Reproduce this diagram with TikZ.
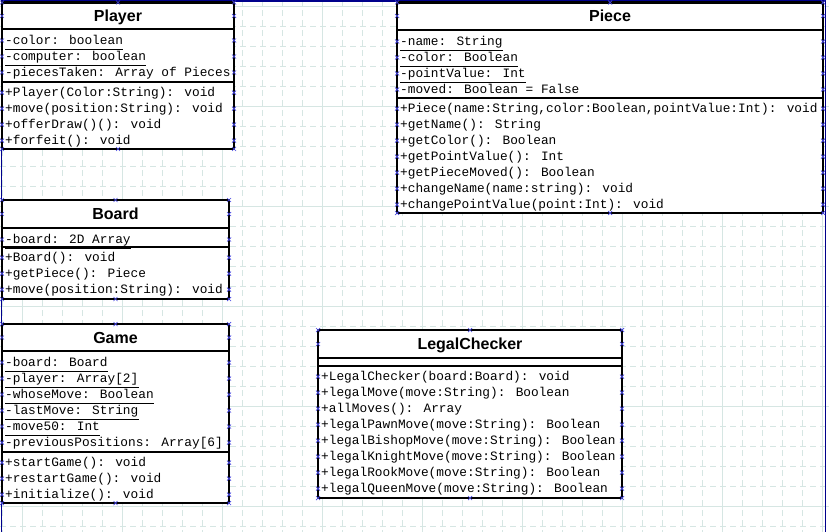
\documentclass[tikz,border=0pt]{standalone}
\usepackage{fontspec}
\setmainfont{Liberation Sans}
\newfontfamily\umlmono{Liberation Mono}
\definecolor{gridcol}{RGB}{214,230,227}
\definecolor{pageblue}{RGB}{0,0,140}
\definecolor{markblue}{RGB}{70,70,225}
\begin{document}
\begin{tikzpicture}[x=1pt, y=-1pt,
    classbox/.style={draw, line width=2.6pt, fill=white, outer sep=0pt, inner sep=0pt, anchor=north west},
    classline/.style={line width=2.6pt},
    classtitle/.style={inner sep=0pt, anchor=base, font=\bfseries\fontsize{16}{19}\selectfont},
    member/.style={inner sep=0pt, anchor=base west, font=\umlmono\fontsize{12.8}{16}\selectfont},
    staticline/.style={line width=0.8pt},
    gridline/.style={gridcol, line width=0.75pt},
    selx/.pic={\draw[markblue, line width=0.7pt] (-2,-2) -- (2,2) (-2,2) -- (2,-2);}]
            \useasboundingbox (0,0) rectangle (829,532);

            % Grid
            \foreach \k in {0,...,41}
                \draw[gridline, dash pattern=on 6pt off 4pt] (2+20*\k,0) -- (2+20*\k,532);
            \foreach \k in {0,...,26}
                \draw[gridline, dash pattern=on 6pt off 4pt] (0,6+20*\k) -- (829,6+20*\k);
            \foreach \k in {0,...,8}
                \draw[gridline] (22+100*\k,0) -- (22+100*\k,532);
            \foreach \k in {0,...,5}
                \draw[gridline] (0,6+100*\k) -- (829,6+100*\k);

            % Page border
            \draw[pageblue, line width=1.5pt] (1.5,532) -- (1.5,1) -- (825.5,1) -- (825.5,532);

            % Player
            \node[classbox, minimum width=232pt, minimum height=146.5pt] (player) at (2,2.5) {};
            \node[classtitle] (player-title) at (118,21.5) {Player};
            \draw[classline] (2,29) -- (234,29) (2,82) -- (234,82);
            \foreach \m [count=\i from 0] in {{-color: boolean},{-computer: boolean},{-piecesTaken: Array of Pieces}} {
                \node[member] (player-a\i) at (5,44.5+16*\i) {\m};
                \draw[staticline] ([yshift=-5pt]player-a\i.base west) -- ([yshift=-5pt]player-a\i.base east);
                \pic at (2,40.5+16*\i) {selx}; \pic at (234,40.5+16*\i) {selx};
            }
            \foreach \m [count=\i from 0] in {{+Player(Color:String): void},{+move(position:String): void},{+offerDraw()(): void},{+forfeit(): void}} {
                \node[member] (player-o\i) at (5,96.7+16*\i) {\m};
                \pic at (2,92.7+16*\i) {selx}; \pic at (234,92.7+16*\i) {selx};
            }
            \foreach \p in {(2,2.5),(118,2.5),(234,2.5),(2,16),(234,16),(2,149),(118,149),(234,149)}
                \pic at \p {selx};

            % Piece
            \node[classbox, minimum width=426pt, minimum height=210.5pt] (piece) at (397,2.5) {};
            \node[classtitle] (piece-title) at (610,21.7) {Piece};
            \draw[classline] (397,30) -- (823,30) (397,98) -- (823,98);
            \foreach \m [count=\i from 0] in {{-name: String},{-color: Boolean},{-pointValue: Int},{-moved: Boolean = False}} {
                \node[member] (piece-a\i) at (400,45.5+16*\i) {\m};
                \draw[staticline] ([yshift=-5pt]piece-a\i.base west) -- ([yshift=-5pt]piece-a\i.base east);
                \pic at (397,41.5+16*\i) {selx}; \pic at (823,41.5+16*\i) {selx};
            }
            \foreach \m [count=\i from 0] in {{+Piece(name:String,color:Boolean,pointValue:Int): void},{+getName(): String},{+getColor(): Boolean},{+getPointValue(): Int},{+getPieceMoved(): Boolean},{+changeName(name:string): void},{+changePointValue(point:Int): void}} {
                \node[member] (piece-o\i) at (400,112.7+16*\i) {\m};
                \pic at (397,108.7+16*\i) {selx}; \pic at (823,108.7+16*\i) {selx};
            }
            \foreach \p in {(397,2.5),(610,2.5),(823,2.5),(397,16),(823,16),(397,213),(610,213),(823,213)}
                \pic at \p {selx};

            % Board
            \node[classbox, minimum width=227pt, minimum height=99pt] (board) at (2,200) {};
            \node[classtitle] (board-title) at (115.5,219.7) {Board};
            \draw[classline] (2,228) -- (229,228) (2,247) -- (229,247);
            \foreach \m [count=\i from 0] in {{-board: 2D Array}} {
                \node[member] (board-a\i) at (5,243.5+16*\i) {\m};
                \draw[staticline] ([yshift=-5pt]board-a\i.base west) -- ([yshift=-5pt]board-a\i.base east);
                \pic at (2,239.5+16*\i) {selx}; \pic at (229,239.5+16*\i) {selx};
            }
            \foreach \m [count=\i from 0] in {{+Board(): void},{+getPiece(): Piece},{+move(position:String): void}} {
                \node[member] (board-o\i) at (5,261.7+16*\i) {\m};
                \pic at (2,257.7+16*\i) {selx}; \pic at (229,257.7+16*\i) {selx};
            }
            \foreach \p in {(2,200),(115.5,200),(229,200),(2,214),(229,214),(2,299),(115.5,299),(229,299)}
                \pic at \p {selx};

            % Game
            \node[classbox, minimum width=227pt, minimum height=179pt] (game) at (2,324) {};
            \node[classtitle] (game-title) at (115.5,343.2) {Game};
            \draw[classline] (2,351) -- (229,351) (2,452) -- (229,452);
            \foreach \m [count=\i from 0] in {{-board: Board},{-player: Array[2]},{-whoseMove: Boolean},{-lastMove: String},{-move50: Int},{-previousPositions: Array[6]}} {
                \node[member] (game-a\i) at (5,366.5+16*\i) {\m};
                \draw[staticline] ([yshift=-5pt]game-a\i.base west) -- ([yshift=-5pt]game-a\i.base east);
                \pic at (2,362.5+16*\i) {selx}; \pic at (229,362.5+16*\i) {selx};
            }
            \foreach \m [count=\i from 0] in {{+startGame(): void},{+restartGame(): void},{+initialize(): void}} {
                \node[member] (game-o\i) at (5,466.7+16*\i) {\m};
                \pic at (2,462.7+16*\i) {selx}; \pic at (229,462.7+16*\i) {selx};
            }
            \foreach \p in {(2,324),(115.5,324),(229,324),(2,337.5),(229,337.5),(2,503),(115.5,503),(229,503)}
                \pic at \p {selx};

            % LegalChecker
            \node[classbox, minimum width=304pt, minimum height=168pt] (checker) at (318,330) {};
            \node[classtitle] (checker-title) at (470,349.7) {LegalChecker};
            \draw[classline] (318,358) -- (622,358) (318,366) -- (622,366);
            \foreach \m [count=\i from 0] in {{+LegalChecker(board:Board): void},{+legalMove(move:String): Boolean},{+allMoves(): Array},{+legalPawnMove(move:String): Boolean},{+legalBishopMove(move:String): Boolean},{+legalKnightMove(move:String): Boolean},{+legalRookMove(move:String): Boolean},{+legalQueenMove(move:String): Boolean}} {
                \node[member] (checker-o\i) at (321,380.7+16*\i) {\m};
                \pic at (318,376.7+16*\i) {selx}; \pic at (622,376.7+16*\i) {selx};
            }
            \foreach \p in {(318,330),(470,330),(622,330),(318,344),(622,344),(318,498),(470,498),(622,498)}
                \pic at \p {selx};
        \end{tikzpicture}
\end{document}
